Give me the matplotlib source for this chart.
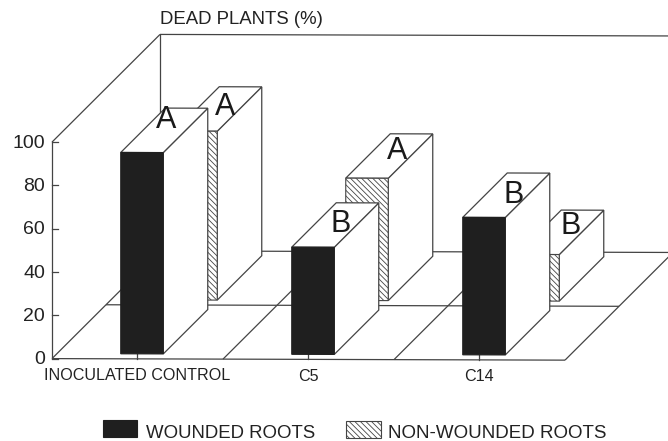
import matplotlib
matplotlib.use('Agg')
import matplotlib.pyplot as plt
from matplotlib.patches import Polygon, Rectangle

plt.rcParams['font.family'] = ['Liberation Sans', 'DejaVu Sans']
plt.rcParams['hatch.linewidth'] = 0.6

# data
categories = ['INOCULATED CONTROL', 'C5', 'C14']
wounded = [93, 49.5, 63.5]
non_wounded = [78, 56.5, 21.5]
wounded_letters = ['A', 'B', 'B']
non_wounded_letters = ['A', 'A', 'B']
y_ticks = [0, 20, 40, 60, 80, 100]

# projection, pixels
X0, Y0 = 52, 358.6
CAT_STEP = 171
FIRST_CAT = 85
PER_PCT = 2.165
ROW_DEPTH = 54
FLOOR_DEPTH = 108
BAR_W = 42.5
BAR_D = 44.5
GAP = 5
SHEAR = 0.003
LINE = '#444444'
DARK = '#1f1f1f'


def proj(x, val, depth):
    # x is px along the front axis, val in %, depth in px going back
    px = X0 + x + depth
    py = Y0 - val * PER_PCT - depth + SHEAR * (x + depth)
    return px, py


def line(ax, p, q, lw=0.9, z=1):
    ax.plot([p[0], q[0]], [p[1], q[1]], color=LINE, lw=lw, zorder=z, solid_capstyle='butt')


def bar3d(ax, cat, val, row, face, hatch, z):
    left = FIRST_CAT + cat * CAT_STEP - BAR_W / 2
    right = left + BAR_W
    d0 = row * ROW_DEPTH + GAP
    d1 = d0 + BAR_D
    front = [proj(left, 0, d0), proj(right, 0, d0), proj(right, val, d0), proj(left, val, d0)]
    side = [proj(right, 0, d0), proj(right, 0, d1), proj(right, val, d1), proj(right, val, d0)]
    top = [proj(left, val, d0), proj(right, val, d0), proj(right, val, d1), proj(left, val, d1)]
    ax.add_patch(Polygon(side, fc='white', ec=LINE, lw=0.9, zorder=z))
    ax.add_patch(Polygon(top, fc='white', ec=LINE, lw=0.9, zorder=z))
    ax.add_patch(Polygon(front, fc=face, ec=LINE if hatch else DARK, lw=0.8, hatch=hatch, zorder=z))


fig = plt.figure(figsize=(6.68, 4.41), dpi=100)
ax = fig.add_axes([0, 0, 1, 1])
ax.set_xlim(0, 668)
ax.set_ylim(441, 0)
ax.axis('off')

# floor and walls
width = CAT_STEP * 3
line(ax, proj(0, 0, 0), proj(width, 0, 0))
line(ax, proj(0, 0, ROW_DEPTH), proj(width, 0, ROW_DEPTH))
line(ax, proj(0, 0, FLOOR_DEPTH), proj(width, 0, FLOOR_DEPTH))
for i in range(4):
    line(ax, proj(i * CAT_STEP, 0, 0), proj(i * CAT_STEP, 0, FLOOR_DEPTH))
line(ax, proj(0, 0, 0), proj(0, 100, 0))
line(ax, proj(0, 100, 0), proj(0, 100, FLOOR_DEPTH))
line(ax, proj(0, 0, FLOOR_DEPTH), proj(0, 100, FLOOR_DEPTH))
line(ax, proj(0, 100, FLOOR_DEPTH), proj(width, 100, FLOOR_DEPTH))

# ticks
for t in y_ticks:
    px, py = proj(0, t, 0)
    ax.plot([px, px + 6], [py, py], color=LINE, lw=0.9, zorder=1)
    ax.text(px - 7, py + 1, str(t), ha='right', va='center', fontsize=14, color='#222222')
for i, name in enumerate(categories):
    px, py = proj(FIRST_CAT + i * CAT_STEP, 0, 0)
    ax.plot([px, px], [py, py - 5], color=LINE, lw=0.9, zorder=1)
    ax.text(px, py + 17, name, ha='center', va='center', fontsize=11.6, color='#222222')

# bars, back row first
for i, v in enumerate(non_wounded):
    bar3d(ax, i, v, 1, 'white', '\\\\\\\\\\\\', 2 + i * 0.1)
for i, v in enumerate(wounded):
    bar3d(ax, i, v, 0, DARK, None, 3 + i * 0.1)

# letters on the bar tops
w_off = [(1.5, -10), (5, -1), (7, 0)]
n_off = [(6.5, -2), (8, -5), (10, -6)]
for i, (v, s) in enumerate(zip(non_wounded, non_wounded_letters)):
    px, py = proj(FIRST_CAT + i * CAT_STEP + BAR_W / 2, v, ROW_DEPTH + GAP + BAR_D / 2)
    ax.text(px - BAR_W / 2 + n_off[i][0], py + n_off[i][1], s, ha='center', va='center',
            fontsize=22, color='#1a1a1a', zorder=5)
for i, (v, s) in enumerate(zip(wounded, wounded_letters)):
    px, py = proj(FIRST_CAT + i * CAT_STEP + BAR_W / 2, v, GAP + BAR_D / 2)
    ax.text(px - BAR_W / 2 + w_off[i][0], py + w_off[i][1], s, ha='center', va='center',
            fontsize=22, color='#1a1a1a', zorder=5)

ax.text(160, 20, 'DEAD PLANTS (%)', ha='left', va='center', fontsize=13.4, color='#222222')

# legend
ax.add_patch(Rectangle((103, 420), 34, 17, fc=DARK, ec=DARK, lw=0.8))
ax.text(146, 433, 'WOUNDED ROOTS', ha='left', va='center', fontsize=13.4, color='#222222')
ax.add_patch(Rectangle((346, 421), 35, 17, fc='white', ec=LINE, lw=0.8, hatch='\\\\\\\\\\\\'))
ax.text(388, 434, 'NON-WOUNDED ROOTS', ha='left', va='center', fontsize=13.5, color='#222222')

fig.savefig('out.png', dpi=100)
